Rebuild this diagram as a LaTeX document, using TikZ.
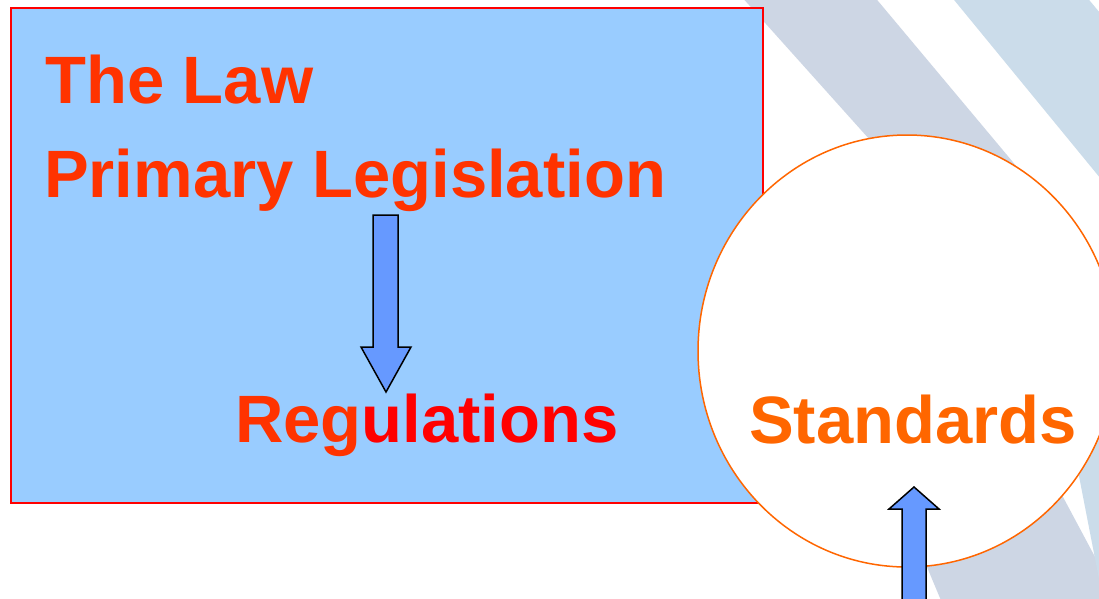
\documentclass[tikz,border=0pt]{standalone}
\usepackage{fontspec}
\setmainfont{Liberation Sans}
\usetikzlibrary{shapes.geometric}
\definecolor{lawfill}{HTML}{99CCFF}
\definecolor{lawred}{HTML}{FF3300}
\definecolor{pure}{HTML}{FF0000}
\definecolor{stdorange}{HTML}{FF6600}
\definecolor{arrowblue}{HTML}{6699FF}
\definecolor{bandA}{HTML}{CDD6E4}
\definecolor{bandB}{HTML}{CBDCEA}
\tikzset{
  bigtext/.style={inner sep=0pt, anchor=base west, font=\bfseries\fontsize{67}{80}\selectfont},
  blockarrow/.style={fill=arrowblue, draw=black, line width=1.5pt, line join=miter},
}
\begin{document}
\begin{tikzpicture}[x=1pt, y=-1pt]
\useasboundingbox (0,0) rectangle (1099,598);
\begin{scope}
\clip (0,0) rectangle (1099,598);
\fill[white] (0,0) rectangle (1099,598);
% background bands
\fill[bandA] (740,-5) -- (870,140) -- (927,567) -- (945,610) -- (1110,610) -- (1110,585) -- (1063,497) -- (1017,167) -- (873,-5) -- cycle;
\fill[bandB] (950,-5) -- (1085,-5) -- (1110,25) -- (1110,190) -- cycle;
\fill[bandB] (1072,440) -- (1110,420) -- (1110,610) -- (1105,610) -- cycle;
% law block
\node[draw=pure, line width=2pt, fill=lawfill, minimum width=752pt, minimum height=495pt, anchor=north west, inner sep=0pt] (law) at (10,7) {};
\node[bigtext, text=lawred] (thelaw) at (45,103) {The Law};
\node[bigtext, text=lawred] (primary) at (44,197) {Primary Legislation};
\node[bigtext] (regs) at (235,442) {\textcolor{lawred}{Reg}\textcolor{pure}{ulations}};
\coordinate (dtop) at (385.5,215);
\coordinate (dtip) at (386,392);
\draw[blockarrow] (373,215) -- (398,215) -- (398,347) -- (411,347) -- (dtip) -- (361,347) -- (373,347) -- cycle;
% standards circle
\node[draw=stdorange, line width=1.5pt, fill=white, ellipse, minimum width=418pt, minimum height=432pt, inner sep=0pt] (std) at (907,351) {};
\node[bigtext, text=stdorange] (stdtext) at (749,443) {Standards};
\coordinate (utip) at (914,487);
\draw[blockarrow] (902,610) -- (902,509) -- (889,509) -- (utip) -- (939,509) -- (926,509) -- (926,610);
\end{scope}
\end{tikzpicture}
\end{document}
